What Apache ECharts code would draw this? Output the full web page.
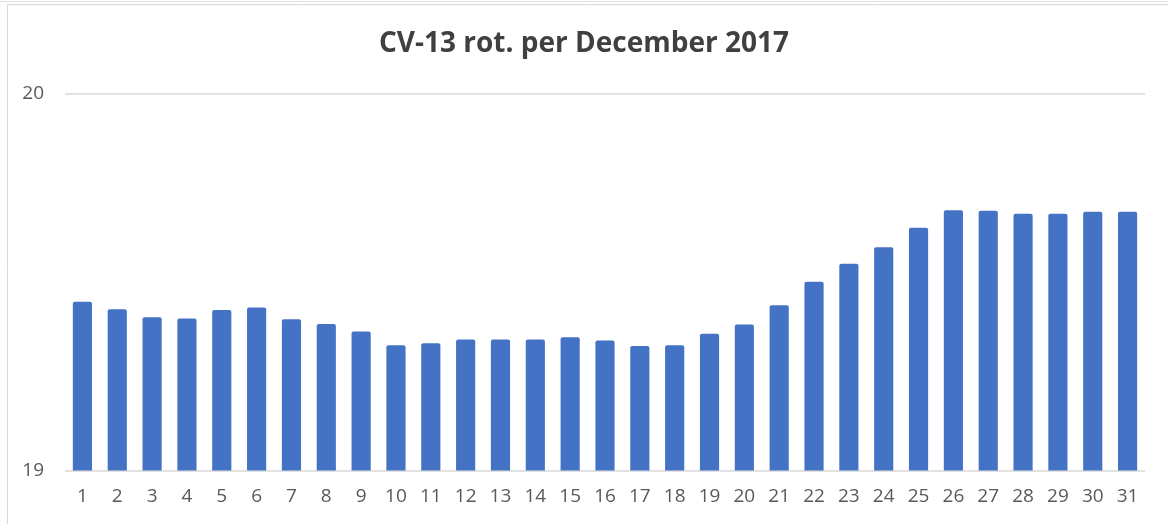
<!DOCTYPE html>
<html>
<head>
<meta charset="utf-8">
<script src="https://cdn.jsdelivr.net/npm/echarts@6/dist/echarts.min.js"></script>
<style>
html,body{margin:0;padding:0;background:#fff;}
#chart{width:1168px;height:524px;}
</style>
</head>
<body>
<div id="chart"></div>
<script>
const titleText = 'CV-13 rot. per December 2017';
const days = ['1','2','3','4','5','6','7','8','9','10','11','12','13','14','15','16','17','18','19','20','21','22','23','24','25','26','27','28','29','30','31'];
const rotValues = [19.448,19.428,19.407,19.404,19.426,19.433,19.402,19.389,19.369,19.333,19.338,19.348,19.348,19.348,19.354,19.345,19.331,19.333,19.363,19.388,19.439,19.501,19.549,19.593,19.645,19.691,19.690,19.682,19.682,19.687,19.687];
const yMin = 19, yMax = 20, yInterval = 1;

const chart = echarts.init(document.getElementById('chart'), null, {renderer:'canvas'});
chart.setOption({
  animation:false,
  backgroundColor:'#fff',
  graphic:[{
    type:'rect', shape:{x:7.5,y:4.5,width:1200,height:600},
    style:{fill:'none',stroke:'#d9d9d9',lineWidth:1}, silent:true
  },{
    type:'line', shape:{x1:0,y1:1.5,x2:1168,y2:1.5},
    style:{stroke:'#e0e0e0',lineWidth:1}, silent:true
  }],
  title:{
    text:titleText, left:'center', top:25,
    textStyle:{fontFamily:'Open Sans', fontWeight:'bold', fontSize:28, color:'#404040'}
  },
  grid:{left:65, right:23, top:94, bottom:53.5, containLabel:false},
  xAxis:{
    type:'category', data:days,
    axisLine:{show:false}, axisTick:{show:false},
    axisLabel:{fontFamily:'Open Sans', fontSize:19, color:'#595959', margin:17}
  },
  yAxis:{
    type:'value', min:yMin, max:yMax, interval:yInterval,
    axisLine:{show:false}, axisTick:{show:false},
    splitLine:{show:true, lineStyle:{color:'#d9d9d9', width:1.5}},
    axisLabel:{fontFamily:'Open Sans', fontSize:19, color:'#595959', margin:21}
  },
  series:[{
    type:'bar', data:rotValues, barCategoryGap:'45%',
    itemStyle:{color:'#4472C4', borderRadius:[2,2,0,0]},
    z:1
  }]
});
</script>
</body>
</html>
